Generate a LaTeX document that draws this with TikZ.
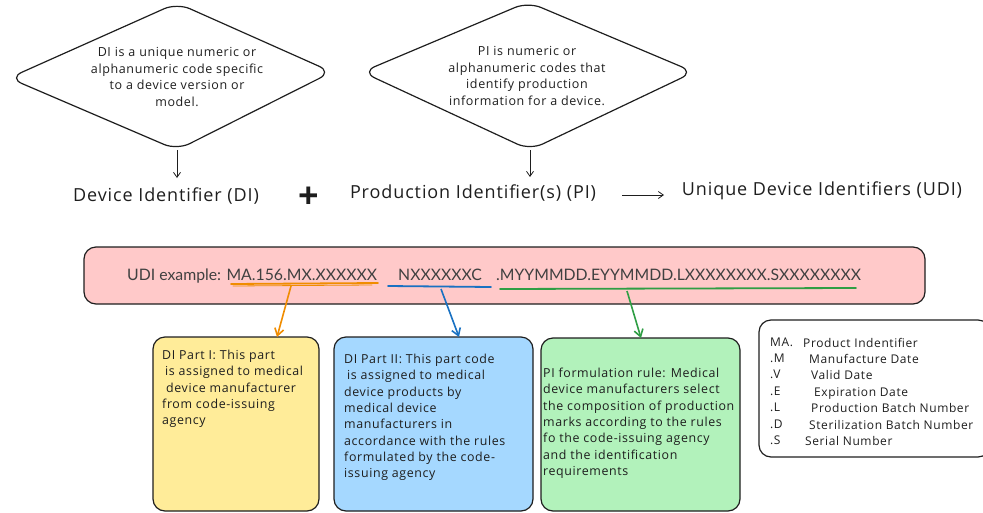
\documentclass[tikz,border=0pt]{standalone}
\usepackage{fontspec}
\setmainfont{Open Sans}[LetterSpace=5]
\newfontfamily\udifont{Lato}
\usetikzlibrary{arrows.meta}
\definecolor{pinkfill}{HTML}{FFC9C9}
\definecolor{yelfill}{HTML}{FFEC99}
\definecolor{bluefill}{HTML}{A5D8FF}
\definecolor{grnfill}{HTML}{B2F2BB}
\definecolor{orln}{HTML}{F08C00}
\definecolor{blln}{HTML}{1971C2}
\definecolor{grln}{HTML}{2F9E44}
\definecolor{ink}{HTML}{1E1E1E}
\tikzset{
  x=1pt, y=-1pt,
  outline/.style={draw=ink, line width=1.2pt, rounded corners=12pt},
  dtext/.style={align=center, font=\fontsize{12.5}{16.6}\selectfont, text=ink, inner sep=0pt},
  lbl/.style={font=\fontsize{18}{20}\selectfont, text=ink, inner sep=0pt},
  btext/.style={align=left, anchor=north west, font=\fontsize{12.4}{16.3}\selectfont, text=ink, inner sep=0pt},
  ltext/.style={btext, font=\fontsize{12}{16.3}\selectfont},
  arr/.style={draw=ink, line width=0.8pt, -{Straight Barb[length=5pt,width=7pt]}},
  carr/.style={line width=1.6pt, -{Straight Barb[length=7pt,width=9pt]}},
  uline/.style={line width=1.8pt, line cap=round},
  udit/.style={font=\udifont\fontsize{15.8}{19}\selectfont, text=ink!85, inner sep=0pt, anchor=base west},
}
\begin{document}
\begin{tikzpicture}
\useasboundingbox (0,0) rectangle (983,512);
% diamonds
\draw[outline, rounded corners=14pt] (9,78) -- (177,3) -- (332,72) -- (177,150) -- cycle;
\node[dtext] (d1) at (177,77) {DI is a unique numeric or\\alphanumeric code specific\\to a device version or\\model.};
\draw[outline, rounded corners=14pt] (362,72) -- (528,2) -- (694,72) -- (530,150) -- cycle;
\node[dtext] (d2) at (527,76) {PI is numeric or\\alphanumeric codes that\\identify production\\information for a device.};
\coordinate (d1b) at (177,150);
\coordinate (d2b) at (530,150);
% labels
\node[lbl] (di) at (166,196) {Device Identifier (DI)};
\node[font=\bfseries\fontsize{36}{36}\selectfont, inner sep=0pt, text=ink] (plus) at (309,198) {+};
\node[lbl] (pi) at (473,193) {Production Identifier(s) (PI)};
\node[lbl] (udi) at (822,191) {Unique Device Identifiers (UDI)};
\draw[arr] (d1b) -- (177,178);
\draw[arr] (d2b) -- (530,177);
\coordinate (ua) at (622,195);
\coordinate (ub) at (664,195);
\draw[arr] (ua) -- (ub);
% pink box
\draw[outline, fill=pinkfill] (84,247) rectangle (925,304);
\node[udit] (u1) at (127,280) {UDI example: MA.156.MX.XXXXXX};
\node[udit] (u2) at (398,280) {NXXXXXXC};
\node[udit] (u3) at (496,280) {.MYYMMDD.EYYMMDD.LXXXXXXXX.SXXXXXXXX};
\draw[uline, orln] (231,284) -- (378,283);
\draw[uline, orln, line width=0.8pt] (233,286) -- (372,285);
\draw[uline, blln] (388,286) -- (491,287);
\draw[uline, grln] (500,289) -- (856,288);
% boxes
\draw[outline, fill=yelfill] (153,337) rectangle (319,511);
\draw[outline, fill=bluefill] (334,337) rectangle (533,511);
\draw[outline, fill=grnfill] (541,338) rectangle (740,511);
\draw[outline] (759,320) rectangle (990,457);
\coordinate (yb) at (277,337);
\coordinate (bb) at (459,337);
\coordinate (gb) at (641,338);
\draw[carr, orln] (291,286) -- (yb);
\draw[carr, blln] (441,289) -- (bb);
\draw[carr, grln] (627,291) -- (gb);
\node[btext] (t1) at (162,350) {DI Part I: This part\\\hspace*{3pt}is assigned to medical\\\hspace*{4pt}device manufacturer\\from code-issuing\\agency};
\node[btext] (t2) at (344,354) {DI Part II: This part code\\\hspace*{3pt}is assigned to medical\\device products by\\medical device\\manufacturers in\\accordance with the rules\\formulated by the code-\\issuing agency};
\node[btext] (t3) at (543,368) {PI formulation rule: Medical\\device manufacturers select\\the composition of production\\marks according to the rules\\fo the code-issuing agency\\and the identification\\requirements};
% legend
\node[ltext] (l1) at (770,338) {MA.};
\node[ltext] (l2) at (770,354) {.M};
\node[ltext] (l3) at (770,370) {.V};
\node[ltext] (l4) at (770,387) {.E};
\node[ltext] (l5) at (770,403) {.L};
\node[ltext] (l6) at (770,420) {.D};
\node[ltext] (l7) at (770,436) {.S};
\node[ltext] (m1) at (803,338) {Product Indentifier};
\node[ltext] (m2) at (809,354) {Manufacture Date};
\node[ltext] (m3) at (811,370) {Valid Date};
\node[ltext] (m4) at (814,387) {Expiration Date};
\node[ltext] (m5) at (811,403) {Production Batch Number};
\node[ltext] (m6) at (809,420) {Sterilization Batch Number};
\node[ltext] (m7) at (805,436) {Serial Number};
\end{tikzpicture}
\end{document}
